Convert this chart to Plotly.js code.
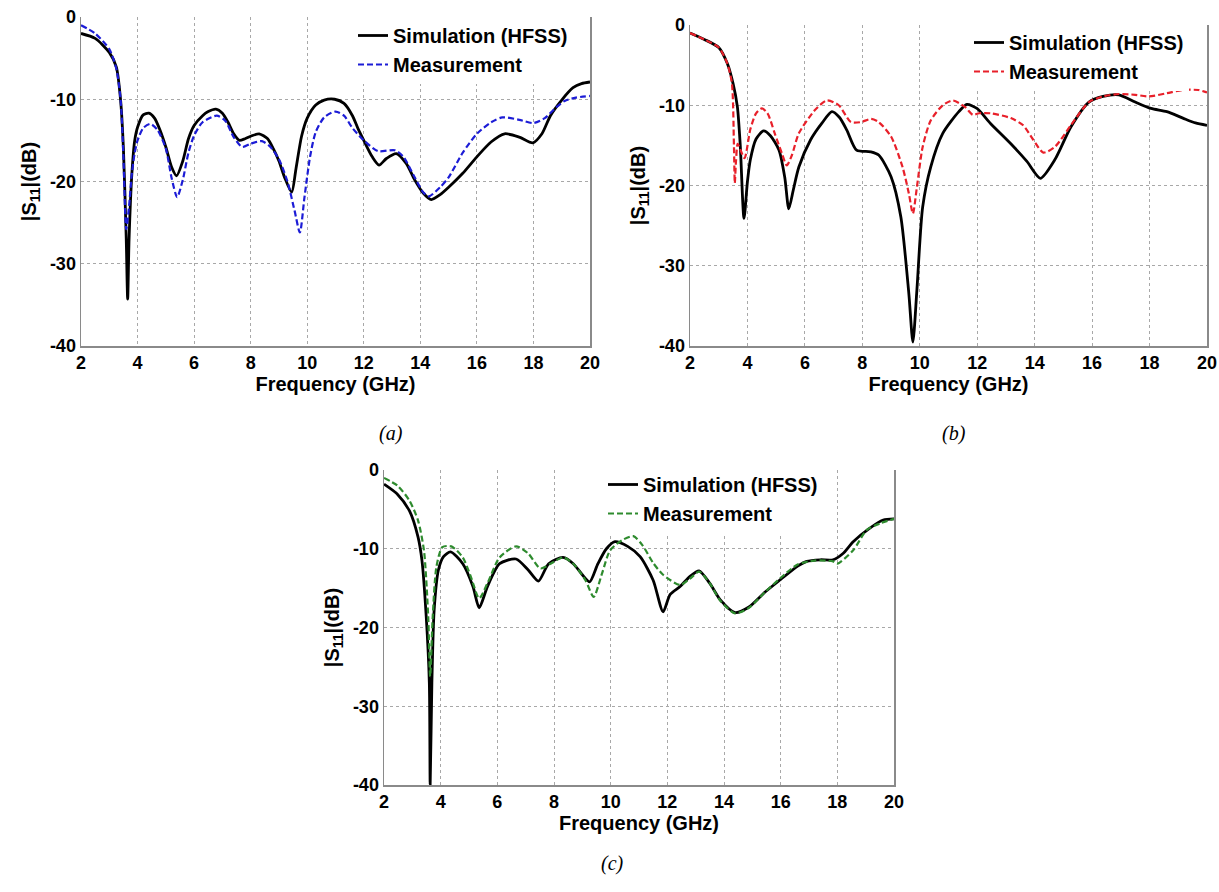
<!DOCTYPE html>
<html>
<head>
<meta charset="utf-8">
<script src="https://cdn.plot.ly/plotly-3.0.1.min.js"></script>
<style>html,body{margin:0;padding:0;background:#fff;}#chart{width:1219px;height:892px;}</style>
</head>
<body>
<div id="chart"></div>
<script>
// ---------- Data ----------
// Panel (a)
const freqA_sim = [2.0,2.5,3.0,3.25,3.4,3.5,3.6,3.65,3.7,3.8,3.9,4.0,4.2,4.4,4.6,4.8,5.0,5.2,5.38,5.6,5.8,6.0,6.3,6.5,6.77,7.0,7.2,7.4,7.6,7.8,8.0,8.3,8.6,8.8,9.0,9.2,9.45,9.6,9.8,10.0,10.3,10.6,10.97,11.3,11.6,11.8,12.0,12.3,12.54,12.8,13.15,13.5,13.8,14.1,14.39,14.7,15.0,15.5,16.0,16.5,16.98,17.5,17.98,18.3,18.6,19.0,19.4,19.7,20.0];
const simA = [-2.0,-2.6,-4.3,-6.1,-10.1,-16,-27,-34.3,-27,-19,-15,-13.4,-11.9,-11.7,-12.3,-13.8,-15.8,-18.2,-19.3,-17.5,-14.8,-13.2,-12.0,-11.5,-11.2,-11.7,-12.8,-14.2,-15.0,-14.8,-14.5,-14.2,-14.8,-16,-17.5,-19.5,-21.3,-18.5,-14.5,-12.3,-10.7,-10.1,-10.0,-10.5,-12,-13.6,-15.0,-17,-18.0,-17.2,-16.6,-17.8,-19.8,-21.4,-22.2,-21.6,-20.7,-19.0,-17.0,-15.2,-14.2,-14.6,-15.3,-14.2,-12.0,-10.1,-8.6,-8.1,-7.9];
const freqA_meas = [2.0,2.5,3.0,3.25,3.4,3.5,3.6,3.7,3.8,3.9,4.0,4.2,4.45,4.7,5.0,5.2,5.4,5.6,5.8,6.0,6.3,6.8,7.1,7.4,7.7,8.0,8.4,8.7,9.0,9.3,9.55,9.74,9.9,10.1,10.3,10.6,11.0,11.3,11.6,12.0,12.5,13.1,13.4,13.8,14.1,14.3,14.7,15.0,15.5,16.0,16.5,16.9,17.5,18.0,18.4,18.8,19.1,19.5,20.0];
const measA = [-1.0,-2.0,-3.9,-6.3,-10,-17,-25.8,-23,-19,-16.5,-15,-13.5,-13.0,-13.7,-16,-19.5,-21.9,-19.8,-16.5,-14.4,-12.8,-12.0,-12.6,-14.6,-15.8,-15.4,-15.1,-15.8,-17.3,-20,-23.5,-26.2,-22,-17,-14,-12.2,-11.5,-12,-13.5,-15.0,-16.3,-16.2,-17,-19.5,-21.3,-21.8,-20.7,-19.5,-16.5,-14.2,-12.8,-12.2,-12.5,-12.9,-12.3,-11.0,-10.2,-9.8,-9.6];

// Panel (b)
const freqB_sim = [2.0,2.5,3.0,3.3,3.5,3.65,3.75,3.88,4.0,4.1,4.3,4.56,4.8,5.1,5.3,5.44,5.6,5.79,6.2,6.6,6.94,7.2,7.46,7.8,8.3,8.57,9.0,9.34,9.62,9.76,9.9,10.1,10.38,10.8,11.36,11.64,11.99,12.47,13.17,13.73,14.2,14.7,15.26,15.89,16.38,16.93,17.5,18.05,18.6,19.16,19.6,20.0];
const simB = [-1.0,-1.8,-2.8,-4.8,-7.3,-10.2,-15,-24.1,-19.5,-16.8,-14.2,-13.2,-13.8,-15.6,-19,-22.9,-20.5,-17.7,-14.3,-12.2,-10.8,-11.5,-13.1,-15.6,-15.8,-16.2,-18.9,-23.9,-33.5,-39.5,-33,-22.7,-17.7,-13.5,-10.8,-9.9,-10.4,-12.3,-14.8,-17.0,-19.1,-16.8,-12.7,-9.6,-8.9,-8.7,-9.6,-10.4,-10.8,-11.6,-12.2,-12.5];
const freqB_meas = [2.0,2.5,3.0,3.3,3.46,3.53,3.56,3.6,3.66,3.75,3.9,4.1,4.3,4.5,4.7,4.95,5.2,5.37,5.55,5.79,6.35,6.76,7.18,7.6,7.95,8.3,8.57,9.0,9.4,9.62,9.76,9.9,10.1,10.38,10.8,11.15,11.57,11.85,12.06,12.47,13.17,13.6,13.95,14.3,14.7,15.26,15.89,16.38,16.93,17.5,17.97,18.6,19.16,19.7,20.0];
const measB = [-1.0,-1.8,-2.8,-4.8,-7.3,-15,-19.7,-17,-14.8,-15.5,-16.6,-13,-11,-10.4,-11,-13.5,-16,-17.5,-16.2,-13.5,-10.6,-9.4,-10,-12.1,-12.1,-11.7,-12.1,-13.9,-17.7,-21,-23.5,-20.2,-15.2,-11.9,-10,-9.4,-10.2,-11.2,-11,-11,-11.6,-12.5,-14.3,-15.9,-15.2,-12.5,-9.6,-8.9,-8.6,-8.7,-8.9,-8.5,-8.1,-8.1,-8.4];

// Panel (c)
const freqC_sim = [2.0,2.48,2.9,3.2,3.34,3.49,3.6,3.63,3.69,3.77,3.92,4.1,4.35,4.78,5.14,5.36,5.65,6.08,6.66,7.09,7.45,7.81,8.32,8.68,9.0,9.26,9.55,9.85,10.15,10.6,11.04,11.5,11.85,12.1,12.45,12.8,13.12,13.5,13.87,14.39,14.88,15.45,16.0,16.6,16.92,17.4,17.85,18.2,18.56,19.1,19.62,20.0];
const simC = [-1.8,-3.1,-5.2,-8.5,-11.5,-18.6,-27,-39.9,-27,-17.8,-12.7,-11,-10.4,-11.9,-14.8,-17.5,-14.8,-11.9,-11.3,-12.7,-14.1,-11.9,-11.1,-11.9,-13.3,-14.2,-11.9,-10,-9.1,-9.7,-11.0,-14.0,-18.0,-15.8,-14.8,-13.5,-12.8,-14.4,-16.5,-18.1,-17.4,-15.5,-13.9,-12.2,-11.6,-11.4,-11.4,-10.6,-9.1,-7.5,-6.35,-6.2];
const freqC_meas = [2.0,2.48,2.9,3.2,3.41,3.56,3.63,3.72,3.85,4.06,4.38,4.78,5.07,5.36,5.65,6.08,6.66,7.09,7.52,7.88,8.32,8.68,9.11,9.4,9.69,9.98,10.41,10.8,11.13,11.5,11.85,12.45,12.8,13.12,13.5,13.87,14.39,14.88,15.45,16.0,16.6,17.2,17.85,18.0,18.56,19.04,19.5,20.0];
const measC = [-1.0,-2.0,-3.9,-6.4,-10.2,-18.6,-26.2,-18.6,-12.3,-9.8,-9.7,-11.1,-13.6,-16.3,-14.4,-11.1,-9.7,-10.6,-12.5,-11.9,-11.1,-11.9,-14,-16.1,-13.2,-10.2,-8.9,-8.4,-9.6,-11.8,-13.3,-14.6,-13.8,-12.9,-14.4,-16.6,-18.2,-17.5,-15.5,-13.7,-12.0,-11.5,-11.6,-11.9,-10.2,-7.6,-6.8,-6.2];

const xTicks = [2,4,6,8,10,12,14,16,18,20];
const yTicks = [-40,-30,-20,-10,0];
const yTickLabels = ['-40','-30','-20','-10','0'];
const simName = 'Simulation (HFSS)';
const measName = 'Measurement';
const captions = ['(a)','(b)','(c)'];

// ---------- Styling ----------
const FONT = 'Liberation Sans, Arial, Helvetica, sans-serif';
const W = 1219, H = 892;
const px = v => v / W;
const py = v => 1 - v / H;

function xAx(d0, d1, anchor) {
  return {
    domain: [px(d0), px(d1)], anchor: anchor, range: [2, 20],
    tickmode: 'array', tickvals: xTicks,
    showgrid: true, gridcolor: '#a8a8a8', griddash: 'dot', gridwidth: 1,
    showline: true, linecolor: '#8a8a8a', linewidth: 1.5, mirror: false,
    zeroline: false, ticks: '',
    tickfont: {family: FONT, size: 18, color: '#000', weight: 'bold'},
    title: {text: 'Frequency (GHz)', standoff: 2,
            font: {family: FONT, size: 20, color: '#000', weight: 'bold'}}
  };
}
function yAx(d0, d1, anchor) {
  return {
    domain: [py(d1), py(d0)], anchor: anchor, range: [-40, 0],
    tickmode: 'array', tickvals: yTicks, ticktext: yTickLabels,
    showgrid: true, gridcolor: '#a8a8a8', griddash: 'dot', gridwidth: 1,
    showline: true, linecolor: '#8a8a8a', linewidth: 1.5, mirror: true,
    zeroline: false, ticks: '',
    tickfont: {family: FONT, size: 18, color: '#000', weight: 'bold'},
    title: {text: '|S<sub>11</sub>|(dB)', standoff: 8,
            font: {family: FONT, size: 20, color: '#000', weight: 'bold'}}
  };
}

const simLine = {color: '#000000', width: 2.8};
function measLine(c) { return {color: c, width: 2.2, dash: '6px,3px'}; }

const traces = [
  {x: freqA_sim, y: simA, name: simName, xaxis: 'x', yaxis: 'y', legend: 'legend',
   mode: 'lines', line: Object.assign({shape: 'spline', smoothing: 0.7}, simLine)},
  {x: freqA_meas, y: measA, name: measName, xaxis: 'x', yaxis: 'y', legend: 'legend',
   mode: 'lines', line: Object.assign({shape: 'spline', smoothing: 0.7}, measLine('#1c1cd6'))},
  {x: freqB_sim, y: simB, name: simName, xaxis: 'x2', yaxis: 'y2', legend: 'legend2',
   mode: 'lines', line: Object.assign({shape: 'spline', smoothing: 0.7}, simLine)},
  {x: freqB_meas, y: measB, name: measName, xaxis: 'x2', yaxis: 'y2', legend: 'legend2',
   mode: 'lines', line: Object.assign({shape: 'spline', smoothing: 0.7}, measLine('#e8202a'))},
  {x: freqC_sim, y: simC, name: simName, xaxis: 'x3', yaxis: 'y3', legend: 'legend3',
   mode: 'lines', line: Object.assign({shape: 'spline', smoothing: 0.7}, simLine)},
  {x: freqC_meas, y: measC, name: measName, xaxis: 'x3', yaxis: 'y3', legend: 'legend3',
   mode: 'lines', line: Object.assign({shape: 'spline', smoothing: 0.7}, measLine('#2e8b2e'))}
];

function leg(xl, yt) {
  return {x: px(xl), y: py(yt), xanchor: 'left', yanchor: 'top',
          bgcolor: '#ffffff', borderwidth: 0, tracegroupgap: 0,
          font: {family: FONT, size: 20, color: '#000', weight: 'bold'}};
}

const capFont = {family: 'Liberation Serif, Times New Roman, serif', size: 20, color: '#000', style: 'italic'};
const layout = {
  width: W, height: H,
  margin: {l: 0, r: 0, t: 0, b: 0},
  paper_bgcolor: '#ffffff', plot_bgcolor: '#ffffff',
  showlegend: true,
  xaxis: xAx(81, 590, 'y'), yaxis: yAx(17, 346, 'x'),
  xaxis2: xAx(690, 1207, 'y2'), yaxis2: yAx(25, 346, 'x2'),
  xaxis3: xAx(384, 894, 'y3'), yaxis3: yAx(470, 785, 'x3'),
  legend: leg(353, 16),
  legend2: leg(969, 23),
  legend3: leg(603, 465),
  annotations: [
    {text: captions[0], xref: 'paper', yref: 'paper', x: px(377), y: py(433), showarrow: false, font: capFont},
    {text: captions[1], xref: 'paper', yref: 'paper', x: px(968), y: py(433), showarrow: false, font: capFont},
    {text: captions[2], xref: 'paper', yref: 'paper', x: px(612), y: py(877), showarrow: false, font: capFont}
  ]
};

Plotly.newPlot('chart', traces, layout, {displayModeBar: false, staticPlot: true});
</script>
</body>
</html>
